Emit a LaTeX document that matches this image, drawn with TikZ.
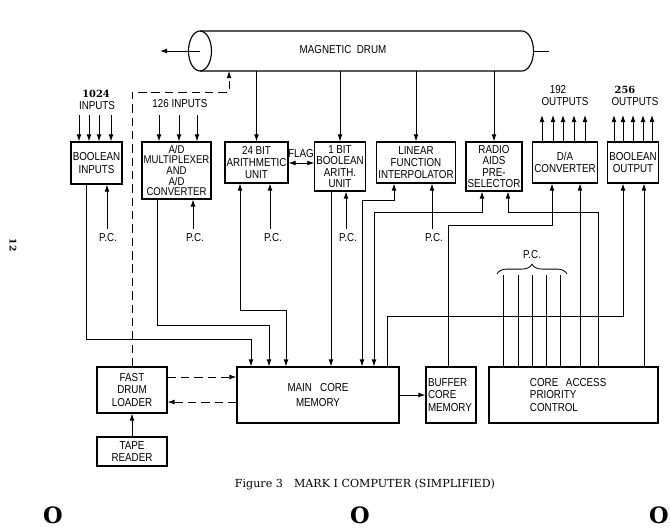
\documentclass[tikz,border=0pt]{standalone}
\usepackage{fontspec}
\setmainfont{DejaVu Serif}
\newfontfamily\lettres{Liberation Sans}[FakeStretch=0.85]
\usetikzlibrary{arrows.meta,decorations.pathreplacing}

\begin{document}
\begin{tikzpicture}[x=0.025cm,y=-0.025cm]
    \tikzstyle{boite}=[draw,line width=0.8pt,inner sep=1pt,align=center,font=\lettres\fontsize{8.2}{8.7}\selectfont]
    \tikzstyle{texte}=[inner sep=0pt,align=center,font=\lettres\fontsize{8.2}{9}\selectfont]
    \tikzstyle{lien}=[line width=0.6pt,>={Latex[length=5pt,width=3.4pt]}]
    \tikzstyle{tirets}=[dash pattern=on 6pt off 3.5pt]
  \useasboundingbox (0,0) rectangle (670,531);
  % tambour magnetique
  \draw [line width=0.8pt] (200,51) ellipse [x radius=11.5,y radius=20];
  \draw [line width=0.8pt] (200,31) -- (522,31)
    arc [start angle=-90,end angle=90,x radius=11.5,y radius=20] -- (200,71);
  \node[texte] (tambour) at (343,50) {MAGNETIC\ \ DRUM};
  \coordinate (fond) at (200,71);
  \draw [lien,->] (200,51) -- (160,51);
  \draw [lien] (534,51) -- (549,51);
  % boites du haut
  \node[boite,minimum width=1.275cm,minimum height=1.05cm] (bin) at (96.5,163) {BOOLEAN\\INPUTS};
  \node[boite,minimum width=1.725cm,minimum height=1.425cm,font=\lettres\fontsize{8}{7.6}\selectfont] (adc) at (176.5,170.5) {A/D\\MULTIPLEXER\\AND\\A/D\\CONVERTER};
  \node[boite,minimum width=1.575cm,minimum height=1.025cm] (arith) at (256.5,162.5) {24 BIT\\ARITHMETIC\\UNIT};
  \node[boite,minimum width=1.25cm,minimum height=1.225cm,font=\lettres\fontsize{8.2}{8}\selectfont] (bool1) at (340,166.5) {1 BIT\\BOOLEAN\\ARITH.\\UNIT};
  \node[boite,minimum width=1.85cm,minimum height=1.025cm] (lfi) at (416,162.5) {LINEAR\\FUNCTION\\INTERPOLATOR};
  \node[boite,minimum width=1.4cm,minimum height=1.225cm,font=\lettres\fontsize{8.2}{8}\selectfont] (radio) at (494,166.5) {RADIO\\AIDS\\PRE-\\SELECTOR};
  \node[boite,minimum width=1.55cm,minimum height=1.025cm] (dac) at (565,162.5) {D/A\\CONVERTER};
  \node[boite,minimum width=1.25cm,minimum height=1.025cm] (bout) at (633,162.5) {BOOLEAN\\OUTPUT};
  % boites du bas
  \node[boite,minimum width=4.05cm,minimum height=1.4cm,font=\lettres\fontsize{8.2}{10.5}\selectfont] (core) at (318,395) {MAIN\ \ \ CORE\\MEMORY};
  \node[boite,minimum width=1.25cm,minimum height=1.4cm,text width=1.15cm,align=left] (buffer) at (451,395) {BUFFER\\CORE\\MEMORY};
  \node[boite,minimum width=4.225cm,minimum height=1.4cm,text width=2.175cm,align=left] (cap) at (573.5,395) {CORE\ \ ACCESS\\PRIORITY\\CONTROL};
  \node[boite,minimum width=1.75cm,minimum height=1.15cm] (loader) at (132,390) {FAST\\DRUM\\LOADER};
  \node[boite,minimum width=1.75cm,minimum height=0.725cm] (tape) at (132,451.5) {TAPE\\READER};
  % entrees et sorties
  \node[inner sep=0pt,font=\bfseries\fontsize{7}{7}\selectfont] (n1024) at (96,94) {1024};
  \node[texte] (eBin) at (97,106) {INPUTS};
  \node[texte] (eAdc) at (180,104) {126 INPUTS};
  \node[texte] (n192) at (558,90) {192};
  \node[texte] (s192) at (565,102) {OUTPUTS};
  \node[inner sep=0pt,font=\bfseries\fontsize{7}{7}\selectfont] (n256) at (625,90) {256};
  \node[texte] (s256) at (635,102) {OUTPUTS};
  \foreach \x in {79,89,99,111} \draw [lien,->] (\x,115) -- (bin.north -| \x,0);
  \foreach \x in {159,179,197} \draw [lien,->] (\x,115) -- (adc.north -| \x,0);
  \foreach \x in {542,553,563,574,585} \draw [lien,->] (dac.north -| \x,0) -- (\x,115);
  \foreach \x in {614,623,633,643,652} \draw [lien,->] (bout.north -| \x,0) -- (\x,115);
  % tambour vers les unites
  \draw [lien,->] (fond -| arith.north) -- (arith.north);
  \draw [lien,->] (fond -| bool1.north) -- (bool1.north);
  \draw [lien,->] (fond -| lfi.north) -- (lfi.north);
  \draw [lien,->] (fond -| radio.north) -- (radio.north);
  \draw [lien,tirets,->] (loader.north) -- (132,92) -| (fond -| 229,0);
  % drapeau
  \node[texte] (flag) at (301,154) {FLAG};
  \draw [lien,<->] (arith.east |- 0,163) -- (bool1.west |- 0,163);
  % P.C.
  \node[texte] (pcA) at (108,238) {P.C.};
  \node[texte] (pcB) at (195,238) {P.C.};
  \node[texte] (pcC) at (273,238) {P.C.};
  \node[texte] (pcD) at (348,238) {P.C.};
  \node[texte] (pcE) at (434,238) {P.C.};
  \node[texte] (pcF) at (532,255) {P.C.};
  \draw [lien,->] ([yshift=3pt]pcA.north -| 107,0) -- (bin.south -| 107,0);
  \draw [lien,->] ([yshift=3pt]pcB.north -| 193,0) -- (adc.south -| 193,0);
  \draw [lien,->] ([yshift=3pt]pcC.north -| 270,0) -- (arith.south -| 270,0);
  \draw [lien,->] ([yshift=3pt]pcD.north -| 346,0) -- (bool1.south -| 346,0);
  \draw [lien,->] ([yshift=3pt]pcE.north -| 432,0) -- (lfi.south -| 432,0);
  \draw [lien,decorate,decoration={brace,amplitude=7pt}] (497,274) -- (567,274);
  \foreach \x in {503,518,532,546,560} \draw [lien] (\x,275) -- (cap.north -| \x,0);
  % liaisons vers la memoire
  \draw [lien,->] (bin.south -| 86,0) |- (251,339) -- (core.north -| 251,0);
  \draw [lien,->] (adc.south -| 157,0) |- (269,325) -- (core.north -| 269,0);
  \draw [lien,<->] (arith.south -| 240,0) |- (286,310) -- (core.north -| 286,0);
  \draw [lien,->] (bool1.south -| 331,0) -- (core.north -| 331,0);
  \draw [lien,<->] (lfi.south -| 394,0) |- (362,200) -- (core.north -| 362,0);
  \draw [lien,<->] (radio.south -| 482,0) |- (374,212) -- (core.north -| 374,0);
  \draw [lien,<-] (radio.south -| 508,0) |- (598,212) -- (cap.north -| 598,0);
  \draw [lien,<-] (dac.south -| 552,0) |- (448,225) -- (buffer.north -| 448,0);
  \draw [lien,<-] (dac.south -| 580,0) -- (cap.north -| 580,0);
  \draw [lien,<-] (bout.south -| 623,0) |- (387,316) -- (core.north -| 387,0);
  \draw [lien,<-] (bout.south -| 644,0) -- (cap.north -| 644,0);
  \draw [lien,->] (core.east) -- (buffer.west);
  \draw [lien,tirets,->] (loader.east |- 0,377) -- (core.west |- 0,377);
  \draw [lien,tirets,->] (core.west |- 0,402) -- (loader.east |- 0,402);
  \draw [lien,->] (tape.north) -- (loader.south);
  % legende et marges
  \node[inner sep=0pt,font=\fontsize{7.9}{9}\selectfont] (legende) at (365,485) {Figure 3\quad MARK I COMPUTER (SIMPLIFIED)};
  \node[inner sep=0pt,rotate=-90,font=\bfseries\fontsize{6.5}{7}\selectfont] (page) at (13,245) {12};
  \node[inner sep=0pt,font=\bfseries\fontsize{16}{16}\selectfont] (trouA) at (53,515) {O};
  \node[inner sep=0pt,font=\bfseries\fontsize{16}{16}\selectfont] (trouB) at (360,515) {O};
  \node[inner sep=0pt,font=\bfseries\fontsize{16}{16}\selectfont] (trouC) at (659,515) {O};
\end{tikzpicture}
\end{document}
